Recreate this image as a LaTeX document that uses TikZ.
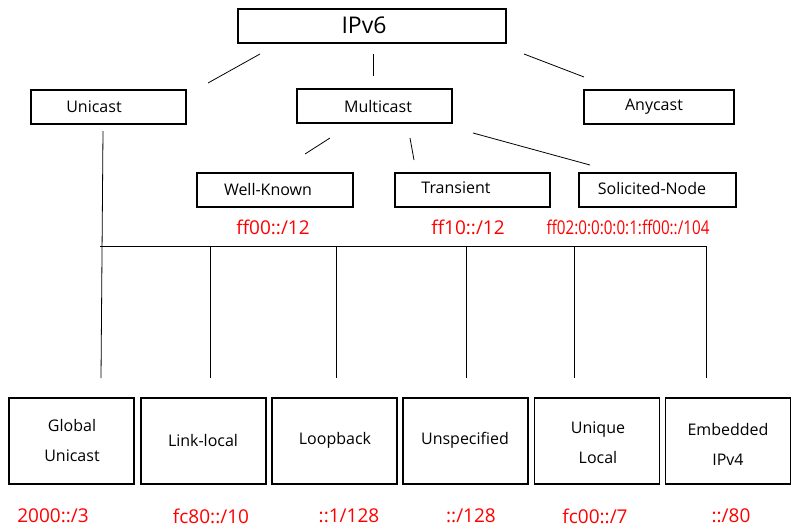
\documentclass[tikz,border=0pt]{standalone}
\usepackage{graphicx}
\usepackage{fontspec}
\setmainfont{Open Sans}
\begin{document}
\begin{tikzpicture}[x=1pt,y=-1pt,
  box/.style={draw=black, line width=1.6pt, inner sep=0pt, minimum height=34pt},
  bigbox/.style={draw=black, line width=1.6pt, inner sep=0pt, minimum width=125pt, minimum height=86pt},
  lbl/.style={font=\fontsize{16}{30}\selectfont, inner sep=0pt, align=center},
  addr/.style={text=red, font=\fontsize{19}{20}\selectfont, inner sep=0pt},
  conn/.style={draw=black, line width=0.8pt}]
\path[use as bounding box, fill=white] (0,0) rectangle (792,530);

% top level
\node[box, minimum width=268pt] (ipv6) at (372,26) {};
\node[lbl, font=\fontsize{23}{24}\selectfont] (ipv6T) at (364,25) {IPv6};
\node[box, minimum width=155pt] (unicast) at (108.5,107) {};
\node[lbl] (unicastT) at (94,107) {Unicast};
\node[box, minimum width=155pt] (multicast) at (374.5,106) {};
\node[lbl] (multicastT) at (378,106) {Multicast};
\node[box, minimum width=150pt] (anycast) at (659,107) {};
\node[lbl] (anycastT) at (654,107) {Anycast};

% multicast children
\node[box, minimum width=156pt] (wellknown) at (275,190) {};
\node[lbl] (wellknownT) at (268,189) {Well-Known};
\node[box, minimum width=155pt] (transient) at (472.5,190) {};
\node[lbl] (transientT) at (456,188) {Transient};
\node[box, minimum width=157pt] (solicited) at (657.5,190) {};
\node[lbl] (solicitedT) at (652,188) {Solicited-Node};

\node[addr] (wellknownA) at (273,227) {ff00::/12};
\node[addr] (transientA) at (468,227) {ff10::/12};
\node[addr] (solicitedA) at (628,227) {\scalebox{0.8}[1]{ff02:0:0:0:0:1:ff00::/104}};

% unicast children
\node[bigbox] (global) at (71.5,441) {};
\node[lbl] (globalT) at (72,440) {Global\\Unicast};
\node[bigbox] (link) at (203.5,441) {};
\node[lbl] (linkT) at (203,440) {Link-local};
\node[bigbox] (loop) at (334.5,441) {};
\node[lbl] (loopT) at (335,440) {Loopback};
\node[bigbox] (unspec) at (465.5,441) {};
\node[lbl] (unspecT) at (465,440) {Unspecified};
\node[bigbox] (unique) at (597,441) {};
\node[lbl] (uniqueT) at (598,443) {Unique\\Local};
\node[bigbox] (embedded) at (728,441) {};
\node[lbl] (embeddedT) at (728,444) {Embedded\\IPv4};

\node[addr] (globalA) at (53,516) {2000::/3};
\node[addr] (linkA) at (211,516) {fc80::/10};
\node[addr] (loopA) at (349,516) {::1/128};
\node[addr] (unspecA) at (471,516) {::/128};
\node[addr] (uniqueA) at (595,516) {fc00::/7};
\node[addr] (embeddedA) at (731,516) {::/80};

% connector end points
\coordinate (a1) at (260,54);  \coordinate (a2) at (208,83);
\coordinate (b1) at (373,54);  \coordinate (b2) at (373,76);
\coordinate (c1) at (524,54);  \coordinate (c2) at (584,77);
\coordinate (d1) at (330,138); \coordinate (d2) at (305,154);
\coordinate (e1) at (410,138); \coordinate (e2) at (414,160);
\coordinate (f1) at (473,133); \coordinate (f2) at (590,165);
\coordinate (u1) at (103,131); \coordinate (u2) at (101,378);
\coordinate (busL) at (100,246); \coordinate (busR) at (706,246);
\coordinate (v2t) at (210,246); \coordinate (v2b) at (210,378);
\coordinate (v3t) at (336,246); \coordinate (v3b) at (336,378);
\coordinate (v4t) at (466,246); \coordinate (v4b) at (466,378);
\coordinate (v5t) at (574,246); \coordinate (v5b) at (574,378);
\coordinate (v6t) at (706,246); \coordinate (v6b) at (706,378);

\draw[conn] (a1) -- (a2);
\draw[conn] (b1) -- (b2);
\draw[conn] (c1) -- (c2);
\draw[conn] (d1) -- (d2);
\draw[conn] (e1) -- (e2);
\draw[conn] (f1) -- (f2);
\draw[conn] (u1) -- (u2);
\draw[conn] (busL) -- (busR);
\draw[conn] (v2t) -- (v2b);
\draw[conn] (v3t) -- (v3b);
\draw[conn] (v4t) -- (v4b);
\draw[conn] (v5t) -- (v5b);
\draw[conn] (v6t) -- (v6b);
\end{tikzpicture}
\end{document}
